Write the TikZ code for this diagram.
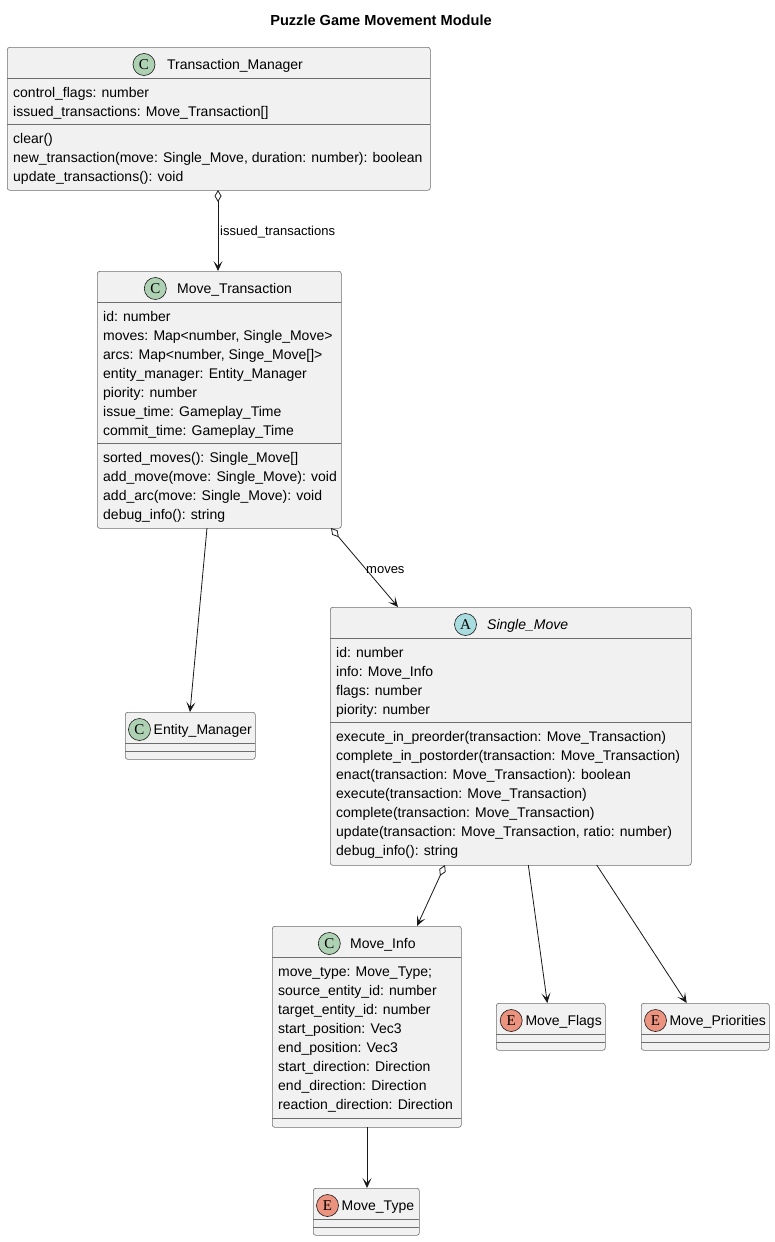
\documentclass[tikz,border=0pt]{standalone}
\usepackage{fontspec}
\setmainfont{Liberation Sans}
\newfontfamily\circfont{Liberation Serif}
\usetikzlibrary{arrows.meta}
\definecolor{boxfill}{HTML}{F1F1F1}
\definecolor{boxline}{HTML}{6E6E6E}
\definecolor{lineclr}{HTML}{181818}
\definecolor{cfill}{HTML}{ADD1B2}
\definecolor{afill}{HTML}{A9DCDF}
\definecolor{efill}{HTML}{EB937F}
\tikzset{
  umlbox/.style={draw=boxline, fill=boxfill, line width=0.6pt, rounded corners=2.5pt, anchor=north west, inner sep=0pt},
  divline/.style={draw=boxline, line width=0.6pt},
  attr/.style={anchor=base west, inner sep=0pt, font=\fontsize{14}{16}\selectfont, text=black},
  cname/.style={anchor=base west, inner sep=0pt, font=\fontsize{14}{16}\selectfont, text=black},
  circ/.style={circle, draw=lineclr, line width=0.6pt, minimum size=22pt, inner sep=0pt, font=\circfont\fontsize{15}{17}\selectfont},
  rel/.style={draw=lineclr, line width=0.8pt},
  tip/.style={-{Stealth[length=10pt,width=9pt,inset=5pt]}},
  aggtip/.style={{Diamond[open,length=12pt,width=7pt]}-{Stealth[length=10pt,width=9pt,inset=5pt]}},
  lbl/.style={anchor=west, inner sep=0pt, font=\fontsize{13}{15}\selectfont, text=black}
}
\begin{document}
\begin{tikzpicture}[x=1pt,y=-1pt]
\useasboundingbox (0,0) rectangle (775,1242);
\fill[white] (0,0) rectangle (775,1242);
\node[anchor=base, inner sep=0pt, font=\fontsize{14.6}{17}\selectfont\bfseries] (title) at (381,25) {Puzzle Game Movement Module};

% Transaction_Manager
\node[umlbox, minimum width=423pt, minimum height=143pt] (tm) at (7,47) {};
\draw[divline] (7,78) -- (430,78);
\draw[divline] (7,124) -- (430,124);
\node[circ, fill=cfill] (tm-c) at (144,64.5) {C};
\node[cname] (tm-n) at (167,69.5) {Transaction\_Manager};
\node[attr] (tm-a1) at (13,97.7) {control\_flags: number};
\node[attr] (tm-a2) at (13,116.7) {issued\_transactions: Move\_Transaction[]};
\node[attr] (tm-m1) at (13,143.7) {clear()};
\node[attr] (tm-m2) at (13,162.7) {new\_transaction(move: Single\_Move, duration: number): boolean};
\node[attr] (tm-m3) at (13,181.7) {update\_transactions(): void};

% Move_Transaction
\node[umlbox, minimum width=244pt, minimum height=257pt] (mt) at (97,271) {};
\draw[divline] (97,302) -- (341,302);
\draw[divline] (97,443) -- (341,443);
\node[circ, fill=cfill] (mt-c) at (155.3,288.5) {C};
\node[cname] (mt-n) at (177,293.5) {Move\_Transaction};
\node[attr] (mt-a1) at (103,321.7) {id: number};
\node[attr] (mt-a2) at (103,340.7) {moves: Map<number, Single\_Move>};
\node[attr] (mt-a3) at (103,359.7) {arcs: Map<number, Singe\_Move[]>};
\node[attr] (mt-a4) at (103,378.7) {entity\_manager: Entity\_Manager};
\node[attr] (mt-a5) at (103,397.7) {piority: number};
\node[attr] (mt-a6) at (103,416.7) {issue\_time: Gameplay\_Time};
\node[attr] (mt-a7) at (103,435.7) {commit\_time: Gameplay\_Time};
\node[attr] (mt-m1) at (103,462.7) {sorted\_moves(): Single\_Move[]};
\node[attr] (mt-m2) at (103,481.7) {add\_move(move: Single\_Move): void};
\node[attr] (mt-m3) at (103,500.7) {add\_arc(move: Single\_Move): void};
\node[attr] (mt-m4) at (103,519.7) {debug\_info(): string};

% Entity_Manager
\node[umlbox, minimum width=130pt, minimum height=47pt] (em) at (125,712) {};
\draw[divline] (125,743) -- (255,743);
\draw[divline] (125,751) -- (255,751);
\node[circ, fill=cfill] (em-c) at (139.5,729.5) {C};
\node[cname] (em-n) at (153.5,734.5) {Entity\_Manager};

% Single_Move
\node[umlbox, minimum width=361pt, minimum height=258pt] (sm) at (330,607) {};
\draw[divline] (330,638) -- (691,638);
\draw[divline] (330,722) -- (691,722);
\node[circ, fill=afill] (sm-c) at (465.5,624.5) {A};
\node[cname, font=\fontsize{14}{16}\selectfont\itshape] (sm-n) at (487,629.5) {Single\_Move};
\node[attr] (sm-a1) at (336,657.7) {id: number};
\node[attr] (sm-a2) at (336,676.7) {info: Move\_Info};
\node[attr] (sm-a3) at (336,695.7) {flags: number};
\node[attr] (sm-a4) at (336,714.7) {piority: number};
\node[attr] (sm-m1) at (336,741.7) {execute\_in\_preorder(transaction: Move\_Transaction)};
\node[attr] (sm-m2) at (336,760.7) {complete\_in\_postorder(transaction: Move\_Transaction)};
\node[attr] (sm-m3) at (336,779.7) {enact(transaction: Move\_Transaction): boolean};
\node[attr] (sm-m4) at (336,798.7) {execute(transaction: Move\_Transaction)};
\node[attr] (sm-m5) at (336,817.7) {complete(transaction: Move\_Transaction)};
\node[attr] (sm-m6) at (336,836.7) {update(transaction: Move\_Transaction, ratio: number)};
\node[attr] (sm-m7) at (336,855.7) {debug\_info(): string};

% Move_Info
\node[umlbox, minimum width=189pt, minimum height=201pt] (mi) at (272,926) {};
\draw[divline] (272,957) -- (461,957);
\draw[divline] (272,1118) -- (461,1118);
\node[circ, fill=cfill] (mi-c) at (329.3,943.5) {C};
\node[cname] (mi-n) at (350,948.5) {Move\_Info};
\node[attr] (mi-a1) at (278,976.7) {move\_type: Move\_Type;};
\node[attr] (mi-a2) at (278,995.7) {source\_entity\_id: number};
\node[attr] (mi-a3) at (278,1014.7) {target\_entity\_id: number};
\node[attr] (mi-a4) at (278,1033.7) {start\_position: Vec3};
\node[attr] (mi-a5) at (278,1052.7) {end\_position: Vec3};
\node[attr] (mi-a6) at (278,1071.7) {start\_direction: Direction};
\node[attr] (mi-a7) at (278,1090.7) {end\_direction: Direction};
\node[attr] (mi-a8) at (278,1109.7) {reaction\_direction: Direction};

% Move_Flags
\node[umlbox, minimum width=109pt, minimum height=47pt] (mf) at (496,1003) {};
\draw[divline] (496,1034) -- (605,1034);
\draw[divline] (496,1042) -- (605,1042);
\node[circ, fill=efill] (mf-c) at (511.2,1020.5) {E};
\node[cname] (mf-n) at (525.3,1025.5) {Move\_Flags};

% Move_Priorities
\node[umlbox, minimum width=128pt, minimum height=47pt] (mp) at (641,1003) {};
\draw[divline] (641,1034) -- (769,1034);
\draw[divline] (641,1042) -- (769,1042);
\node[circ, fill=efill] (mp-c) at (655.5,1020.5) {E};
\node[cname] (mp-n) at (669.3,1025.5) {Move\_Priorities};

% Move_Type
\node[umlbox, minimum width=106pt, minimum height=47pt] (mty) at (313,1188) {};
\draw[divline] (313,1219) -- (419,1219);
\draw[divline] (313,1227) -- (419,1227);
\node[circ, fill=efill] (mty-c) at (327.5,1205.5) {E};
\node[cname] (mty-n) at (341.5,1210.5) {Move\_Type};

% Relations
\coordinate (tm-s) at (218,190);
\coordinate (mt-t) at (218,271);
\draw[rel, aggtip] (tm-s) -- (mt-t);
\node[lbl] (l-issued) at (220,232) {issued\_transactions};

\coordinate (mt-s1) at (207,528);
\coordinate (em-t) at (190,712);
\draw[rel, tip] (mt-s1) -- (em-t);

\coordinate (mt-s2) at (331,528);
\coordinate (sm-t) at (398,607);
\draw[rel, aggtip] (mt-s2) -- (sm-t);
\node[lbl] (l-moves) at (366,570) {moves};

\coordinate (sm-s1) at (445,865);
\coordinate (mi-t) at (417,926);
\draw[rel, aggtip] (sm-s1) -- (mi-t);

\coordinate (sm-s2) at (528.3,865);
\coordinate (mf-t) at (547.3,1003);
\draw[rel, tip] (sm-s2) -- (mf-t);

\coordinate (sm-s3) at (596.7,865);
\coordinate (mp-t) at (686.7,1003);
\draw[rel, tip] (sm-s3) -- (mp-t);

\coordinate (mi-s) at (367,1127);
\coordinate (mty-t) at (367,1188);
\draw[rel, tip] (mi-s) -- (mty-t);
\end{tikzpicture}
\end{document}
